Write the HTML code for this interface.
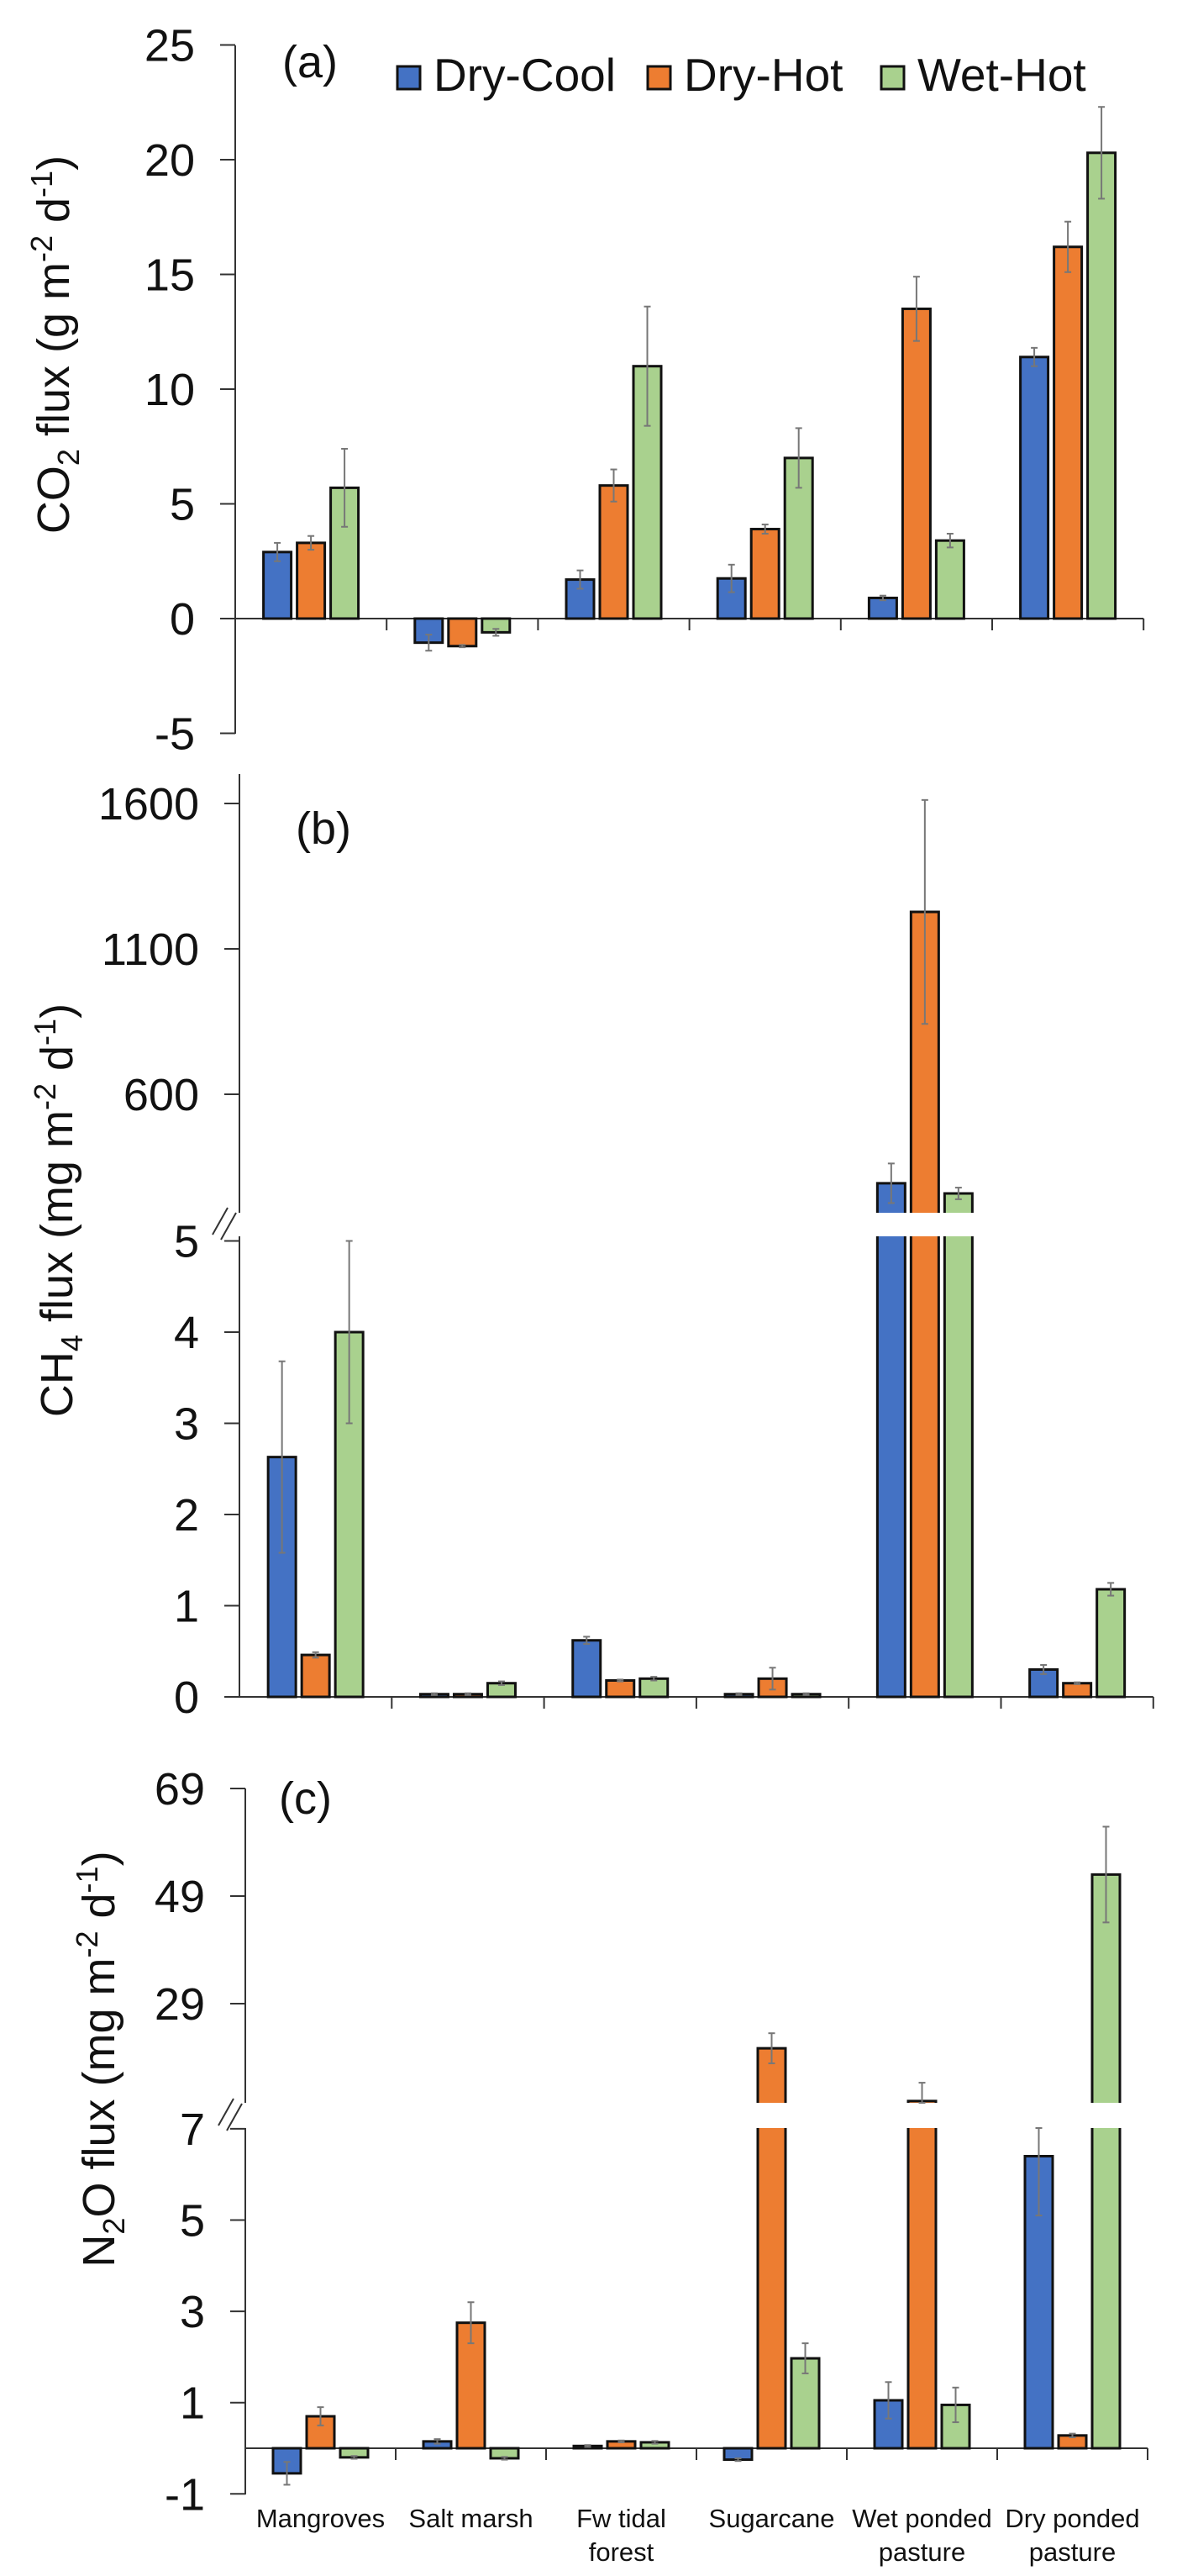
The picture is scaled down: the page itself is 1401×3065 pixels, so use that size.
<!DOCTYPE html>
<html><head><meta charset="utf-8"><style>
html,body{margin:0;padding:0;background:#fff}
svg{display:block;font-family:"Liberation Sans",Arial,sans-serif}
</style></head><body>
<svg id="chart" width="1401" height="3065" viewBox="0 0 1401 3065" xmlns="http://www.w3.org/2000/svg"></svg>
<script>
const categories = [["Mangroves"],["Salt marsh"],["Fw tidal","forest"],["Sugarcane"],["Wet ponded","pasture"],["Dry ponded","pasture"]];
const seriesNames = ["Dry-Cool","Dry-Hot","Wet-Hot"];
const co2DryCool = [2.9,-1.05,1.7,1.75,0.9,11.4];
const co2DryHot = [3.3,-1.2,5.8,3.9,13.5,16.2];
const co2WetHot = [5.7,-0.6,11.0,7.0,3.4,20.3];
const co2ErrDryCool = [0.4,0.35,0.4,0.6,0.1,0.4];
const co2ErrDryHot = [0.3,0.05,0.7,0.2,1.4,1.1];
const co2ErrWetHot = [1.7,0.15,2.6,1.3,0.3,2.0];
const ch4DryCool = [2.63,0.03,0.62,0.03,294,0.3];
const ch4DryHot = [0.46,0.03,0.18,0.2,1227,0.15];
const ch4WetHot = [4.0,0.15,0.2,0.03,259,1.18];
const ch4ErrDryCool = [1.05,0.01,0.04,0.01,68,0.05];
const ch4ErrDryHot = [0.03,0.01,0.01,0.12,385,0.01];
const ch4ErrWetHot = [1.0,0.02,0.02,0.01,20,0.07];
const n2oDryCool = [-0.55,0.15,0.05,-0.25,1.05,6.4];
const n2oDryHot = [0.7,2.75,0.15,20.7,10.9,0.28];
const n2oWetHot = [-0.2,-0.22,0.13,1.97,0.95,53.0];
const n2oErrDryCool = [0.25,0.05,0.02,0.03,0.4,1.3];
const n2oErrDryHot = [0.2,0.45,0.02,2.8,3.4,0.04];
const n2oErrWetHot = [0.03,0.03,0.03,0.33,0.38,8.9];
const co2Ticks = [25,20,15,10,5,0,-5];
const ch4UpperTicks = [1600,1100,600];
const ch4LowerTicks = [5,4,3,2,1,0];
const n2oUpperTicks = [69,49,29];
const n2oLowerTicks = [7,5,3,1,-1];

const NS="http://www.w3.org/2000/svg";
const svg=document.getElementById('chart');
const colors=["#4472C4","#ED7D31","#A9D18E"];
function mk(tag,attrs,parent){const e=document.createElementNS(NS,tag);for(const k in attrs)e.setAttribute(k,attrs[k]);(parent||svg).appendChild(e);return e;}

function panel(cfg){
  const g=mk('g',{});
  
  
  const ax=cfg.axisX, catW=cfg.catW;
  const lower=v=>cfg.lo.y0-(v-cfg.lo.v0)*cfg.lo.k;
  const upper=cfg.up?(v=>cfg.up.y0-(v-cfg.up.v0)*cfg.up.k):null;
  const yl=mk('line',{x1:ax,y1:cfg.lo.top,x2:ax,y2:cfg.lo.bottom,stroke:'#333','stroke-width':2},g);
  
  
  cfg.loTicks.forEach(t=>{
    const y=lower(t);
    mk('line',{x1:ax-18,y1:y,x2:ax,y2:y,stroke:'#333','stroke-width':2},g);
    const tx=mk('text',{x:ax-48,y:y+19,'font-size':54,'text-anchor':'end',fill:'#111'},g);
    tx.textContent=t;
    
    
  });
  if(cfg.up){
    mk('line',{x1:ax,y1:cfg.up.top,x2:ax,y2:cfg.up.bottom,stroke:'#333','stroke-width':2},g);
    cfg.upTicks.forEach(t=>{
      const y=upper(t);
      mk('line',{x1:ax-18,y1:y,x2:ax,y2:y,stroke:'#333','stroke-width':2},g);
      const tx=mk('text',{x:ax-48,y:y+19,'font-size':54,'text-anchor':'end',fill:'#111'},g);
      tx.textContent=t;
      
      
    });
    const by=(cfg.up.bottom+cfg.lo.top)/2;
    const br=mk('g',{},g);
    
    
    mk('line',{x1:ax-32,y1:by+12,x2:ax-14,y2:by-20,stroke:'#333','stroke-width':2},br);
    mk('line',{x1:ax-22,y1:by+18,x2:ax-4,y2:by-14,stroke:'#333','stroke-width':2},br);
  }
  const zy=lower(0);
  const xl=mk('line',{x1:ax,y1:zy,x2:ax+catW*6,y2:zy,stroke:'#333','stroke-width':2},g);
  
  
  for(let i=1;i<=6;i++)mk('line',{x1:ax+catW*i,y1:zy,x2:ax+catW*i,y2:zy+14,stroke:'#333','stroke-width':2},g);
  const bw=33;
  cfg.series.forEach((vals,s)=>{
    vals.forEach((v,i)=>{
      const cx=ax+catW*(i+0.5)+(s-1)*40;
      const err=cfg.errs[s][i];
      const x0=cx-bw/2,x1=cx+bw/2;
      if(cfg.up && v>cfg.loMax){
        const lt=cfg.lo.top, ut=upper(v), ub=cfg.up.bottom;
        const b1=mk('rect',{x:x0,y:lt,width:bw,height:zy-lt,fill:colors[s]},g);
        
        
        mk('path',{d:`M${x0},${lt}V${zy}H${x1}V${lt}`,fill:'none',stroke:'#111','stroke-width':3},g);
        const b2=mk('rect',{x:x0,y:ut,width:bw,height:ub-ut,fill:colors[s]},g);
        
        
        mk('path',{d:`M${x0},${ub}V${ut}H${x1}V${ub}`,fill:'none',stroke:'#111','stroke-width':3},g);
      }else{
        const y=lower(v);
        const b=mk('rect',{x:x0,y:Math.min(y,zy),width:bw,height:Math.max(Math.abs(zy-y),1.5),fill:colors[s],stroke:'#111','stroke-width':3},g);
        
        
      }
      let y1,y2;
      if(cfg.up && v>cfg.loMax){y1=upper(v+err);y2=Math.min(upper(v-err),cfg.up.bottom);}
      else if(v>=0){y1=lower(v+err);y2=lower(v-err);if(cfg.up)y1=Math.max(y1,cfg.lo.top);}
      else {y1=lower(v+err);y2=lower(v-err);}
      const eb=mk('g',{stroke:'#777','stroke-width':2},g);
      
      
      mk('line',{x1:cx,y1:y1,x2:cx,y2:y2},eb);
      mk('line',{x1:cx-4,y1:y1,x2:cx+4,y2:y1},eb);
      mk('line',{x1:cx-4,y1:y2,x2:cx+4,y2:y2},eb);
    });
  });
  const pl=mk('text',{x:cfg.labelX,y:cfg.labelY,'font-size':54,fill:'#111'},g);
  pl.textContent=cfg.label;
  
  
  const t=mk('text',{transform:`translate(${cfg.titleX},${cfg.titleY}) rotate(-90)`,'font-size':54,'text-anchor':'middle',fill:'#111'},g);
  
  
  cfg.title.forEach(p=>{const ts=mk('tspan',p[1]==='sub'?{'font-size':36,dy:12}:p[1]==='sup'?{'font-size':36,dy:-20}:p[1]==='back'?{dy:p[2]}:{},t);ts.textContent=p[0];});
  return {g,zy,ax,catW};
}

const A=panel({name:'panel-a-co2',axisX:280,catW:180.2,
  lo:{y0:736,v0:0,k:27.3,top:54,bottom:873},loTicks:co2Ticks,
  series:[co2DryCool,co2DryHot,co2WetHot],errs:[co2ErrDryCool,co2ErrDryHot,co2ErrWetHot],
  label:'(a)',labelX:336,labelY:92,titleX:82,titleY:410,
  title:[['CO'],['2','sub'],[' flux (g m','back',-12],['-2','sup'],[' d','back',20],['-1','sup'],[')','back',20]]});

const B=panel({name:'panel-b-ch4',axisX:285,catW:181.3,
  lo:{y0:2019,v0:0,k:108.5,top:1471,bottom:2019},loTicks:ch4LowerTicks,
  up:{y0:1302,v0:600,k:0.346,top:921,bottom:1443},upTicks:ch4UpperTicks,loMax:5,
  series:[ch4DryCool,ch4DryHot,ch4WetHot],errs:[ch4ErrDryCool,ch4ErrDryHot,ch4ErrWetHot],
  label:'(b)',labelX:352,labelY:1004,titleX:86,titleY:1440,
  title:[['CH'],['4','sub'],[' flux (mg m','back',-12],['-2','sup'],[' d','back',20],['-1','sup'],[')','back',20]]});

const C=panel({name:'panel-c-n2o',axisX:292,catW:179,
  lo:{y0:2913,v0:0,k:54.3,top:2532,bottom:2968},loTicks:n2oLowerTicks,
  up:{y0:2384,v0:29,k:6.4,top:2128,bottom:2502},upTicks:n2oUpperTicks,loMax:7,
  series:[n2oDryCool,n2oDryHot,n2oWetHot],errs:[n2oErrDryCool,n2oErrDryHot,n2oErrWetHot],
  label:'(c)',labelX:332,labelY:2158,titleX:136,titleY:2450,
  title:[['N'],['2','sub'],['O flux (mg m','back',-12],['-2','sup'],[' d','back',20],['-1','sup'],[')','back',20]]});

categories.forEach((lines,i)=>{
  const cx=C.ax+C.catW*(i+0.5);
  const t=mk('text',{x:cx,y:3007,'font-size':31,'text-anchor':'middle',fill:'#111'});
  
  
  lines.forEach((l,j)=>{const ts=mk('tspan',{x:cx,dy:j?40:0},t);ts.textContent=l;});
});

const leg=mk('g',{});


const legX=[473,771,1049];
seriesNames.forEach((n,s)=>{
  const e=mk('g',{},leg);
  
  
  mk('rect',{x:legX[s],y:79,width:27,height:27,fill:colors[s],stroke:'#111','stroke-width':3},e);
  const t=mk('text',{x:legX[s]+43,y:108,'font-size':55,fill:'#111'},e);
  t.textContent=n;
});
</script>
</body></html>
